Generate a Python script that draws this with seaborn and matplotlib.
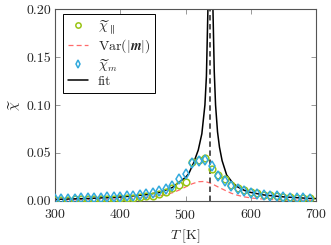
import numpy as np
import pandas as pd
import matplotlib
matplotlib.use("Agg")
import matplotlib.pyplot as plt
import matplotlib.ticker as mticker
import seaborn as sns

# ---- data ----
T = [300, 310, 320, 330, 340, 350, 360, 370, 380, 390,
     400, 410, 420, 430, 440, 450, 460, 470, 480, 490,
     500, 510, 520, 530, 540, 550, 560, 570, 580, 590,
     600, 610, 620, 630, 640, 650, 660, 670, 680, 690]

chi_par = [0.0012, 0.0013, 0.0014, 0.0015, 0.0016, 0.0018, 0.0019, 0.0021, 0.0023, 0.0025,
           0.0027, 0.0030, 0.0034, 0.0039, 0.0046, 0.0056, 0.0070, 0.0095, 0.0130, 0.0165,
           0.0195, 0.0405, 0.0425, 0.0445, 0.0330, 0.0272, 0.0225, 0.0168, 0.0135, 0.0112,
           0.0092, 0.0078, 0.0066, 0.0057, 0.0049, 0.0043, 0.0038, 0.0033, 0.0029, 0.0026]

chi_m = [0.0018, 0.0020, 0.0022, 0.0024, 0.0026, 0.0028, 0.0031, 0.0034, 0.0037, 0.0041,
         0.0045, 0.0050, 0.0056, 0.0063, 0.0073, 0.0087, 0.0105, 0.0128, 0.0160, 0.0226,
         0.0285, 0.0390, 0.0415, 0.0428, 0.0365, 0.0255, 0.0210, 0.0160, 0.0128, 0.0105,
         0.0087, 0.0073, 0.0062, 0.0053, 0.0046, 0.0040, 0.0035, 0.0031, 0.0027, 0.0024]

T_var = [300, 310, 320, 330, 340, 350, 360, 370, 380, 390,
         400, 410, 420, 430, 440, 450, 460, 470, 480, 490,
         500, 510, 520, 530, 540, 550, 560, 570, 580, 590,
         600, 610, 620, 630, 640, 650, 660, 670, 680, 690, 700]
var_m = [0.0008, 0.0009, 0.0010, 0.0011, 0.0012, 0.0013, 0.0015, 0.0016, 0.0018, 0.0020,
         0.0022, 0.0025, 0.0028, 0.0032, 0.0037, 0.0044, 0.0053, 0.0066, 0.0085, 0.0112,
         0.0145, 0.0178, 0.0200, 0.0203, 0.0180, 0.0145, 0.0112, 0.0080, 0.0058, 0.0042,
         0.0031, 0.0024, 0.0019, 0.0015, 0.0012, 0.0010, 0.0009, 0.0008, 0.0007, 0.0006, 0.0006]

T_fit_low = [300, 350, 400, 440, 460, 480, 490, 500, 505, 512, 519.5, 525, 529.7, 532, 534.3, 535.5]
fit_low = [0.0016, 0.0025, 0.0040, 0.0065, 0.0088, 0.0140, 0.0195, 0.0245, 0.0285, 0.0390,
           0.0530, 0.0700, 0.1000, 0.1300, 0.2000, 0.3000]
T_fit_high = [539.5, 542, 544, 546, 549, 552, 556, 563, 572, 580, 590, 600, 620, 650, 690, 700]
fit_high = [0.3000, 0.2000, 0.1350, 0.1000, 0.0720, 0.0560, 0.0420, 0.0270, 0.0190, 0.0145,
            0.0110, 0.0088, 0.0062, 0.0042, 0.0026, 0.0024]

Tc = 537

x_ticks = [300, 400, 500, 600, 700]
y_ticks = [0.00, 0.05, 0.10, 0.15, 0.20]

# ---- style ----
sns.set_style("ticks")
plt.rcParams.update({
    "font.family": "serif",
    "font.serif": ["cmr10"],
    "mathtext.fontset": "cm",
    "axes.formatter.use_mathtext": True,
    "font.size": 10,
})

green = "#99c414"
blue = "#33aadd"
red = "#ff6b6b"

fig = plt.figure(figsize=(3.31, 2.45), dpi=100)
ax = fig.add_axes([0.166, 0.180, 0.789, 0.783])

df_pts = pd.DataFrame({"T": T, "chi_par": chi_par, "chi_m": chi_m})
df_var = pd.DataFrame({"T": T_var, "var": var_m})
df_fl = pd.DataFrame({"T": T_fit_low, "fit": fit_low})
df_fh = pd.DataFrame({"T": T_fit_high, "fit": fit_high})

sns.lineplot(data=df_var, x="T", y="var", ax=ax, color=red, lw=0.9,
             dashes=False, linestyle=(0, (4, 2.5)), zorder=2,
             label=r"$\mathrm{Var}(|\boldsymbol{m}|)$")
sns.lineplot(data=df_fl, x="T", y="fit", ax=ax, color="black", lw=1.1, zorder=2,
             label="fit")
sns.lineplot(data=df_fh, x="T", y="fit", ax=ax, color="black", lw=1.1, zorder=2)
ax.axvline(Tc, color="#444444", lw=1.3, linestyle=(0, (3, 2)), zorder=2)

sns.lineplot(data=df_pts, x="T", y="chi_par", ax=ax, linestyle="none", marker="o",
             markersize=4.8, markerfacecolor="none", markeredgecolor=green,
             markeredgewidth=1.1, color=green, zorder=3,
             label=r"$\widetilde{\chi}_{\parallel}$")
sns.lineplot(data=df_pts, x="T", y="chi_m", ax=ax, linestyle="none", marker="d",
             markersize=5.0, markerfacecolor="none", markeredgecolor=blue,
             markeredgewidth=1.1, color=blue, zorder=4,
             label=r"$\widetilde{\chi}_{m}$")

ax.set_xlim(300, 700)
ax.set_ylim(0, 0.2)
ax.set_xticks(x_ticks)
ax.set_yticks(y_ticks)
ax.yaxis.set_major_formatter(mticker.FormatStrFormatter("%.2f"))
ax.tick_params(direction="in", length=3.5, width=0.6, color="#888888",
               top=True, right=True, labelsize=10)
ax.tick_params(axis="x", pad=5)
ax.tick_params(axis="y", pad=3)
for s in ax.spines.values():
    s.set_color("#555555")
    s.set_linewidth(0.8)

ax.set_xlabel(r"$T\;[\mathrm{K}]$", labelpad=4)
ax.set_ylabel(r"$\widetilde{\chi}$", labelpad=2)

handles, labels = ax.get_legend_handles_labels()
order = [r"$\widetilde{\chi}_{\parallel}$", r"$\mathrm{Var}(|\boldsymbol{m}|)$",
         r"$\widetilde{\chi}_{m}$", "fit"]
hmap = dict(zip(labels, handles))
leg = ax.legend([hmap[k] for k in order], order, loc="upper left",
                bbox_to_anchor=(0.03, 0.975), borderaxespad=0, fancybox=False,
                framealpha=1, edgecolor="black", handlelength=1.5,
                handletextpad=0.65, labelspacing=0.1, borderpad=0.35, fontsize=10,
                markerscale=0.8)
leg.get_frame().set_linewidth(0.7)

fig.savefig("out.png", dpi=100)
